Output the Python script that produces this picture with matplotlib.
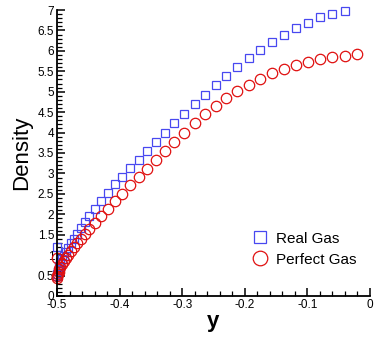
import matplotlib
matplotlib.use('Agg')
from matplotlib import pyplot as plt
from matplotlib.ticker import MultipleLocator
import numpy as np

plt.rcParams['font.family'] = ['Liberation Sans', 'DejaVu Sans']

# wall-normal position (clustered grid near the wall at y = -0.5)
y_pos = [-0.5, -0.4998, -0.4994, -0.4986, -0.4976, -0.4963, -0.4946, -0.4923,
         -0.4896, -0.4864, -0.4827, -0.4784, -0.4736, -0.4681, -0.4620, -0.4553,
         -0.4481, -0.4399, -0.4297, -0.4185, -0.4073, -0.3957, -0.3834, -0.3695,
         -0.3560, -0.3419, -0.3270, -0.3124, -0.2966, -0.2803, -0.2631, -0.2465,
         -0.2296, -0.2120, -0.1938, -0.1752, -0.1565, -0.1379, -0.1187, -0.0990,
         -0.0799, -0.0607, -0.0407, -0.0212]

rho_real = [1.20, 0.49, 0.54, 0.60, 0.67, 0.74, 0.82, 0.90,
            0.99, 1.08, 1.18, 1.29, 1.40, 1.52, 1.66, 1.80,
            1.96, 2.14, 2.33, 2.53, 2.73, 2.92, 3.13, 3.34,
            3.56, 3.78, 4.00, 4.23, 4.46, 4.69, 4.93, 5.16,
            5.38, 5.61, 5.82, 6.03, 6.22, 6.40, 6.56, 6.69,
            6.82, 6.90, 6.98]

rho_perfect = [0.92, 0.44, 0.48, 0.53, 0.59, 0.65, 0.72, 0.79,
               0.86, 0.93, 1.01, 1.10, 1.19, 1.29, 1.40, 1.52,
               1.65, 1.79, 1.96, 2.13, 2.32, 2.50, 2.71, 2.905,
               3.12, 3.34, 3.56, 3.78, 4.00, 4.23, 4.45, 4.64,
               4.84, 5.02, 5.17, 5.32, 5.45, 5.56, 5.65, 5.73,
               5.79, 5.84, 5.87, 5.92]

x_ticks = [-0.5, -0.4, -0.3, -0.2, -0.1, 0]
x_labels = ['-0.5', '-0.4', '-0.3', '-0.2', '-0.1', '0']
y_ticks = [0, 0.5, 1, 1.5, 2, 2.5, 3, 3.5, 4, 4.5, 5, 5.5, 6, 6.5, 7]
y_labels = ['0', '0.5', '1', '1.5', '2', '2.5', '3', '3.5', '4', '4.5',
            '5', '5.5', '6', '6.5', '7']

fig = plt.figure(figsize=(3.75, 3.37), dpi=100)
ax = fig.add_axes([0.152, 0.1217, 0.8347, 0.8486])

ax.plot(y_pos[:len(rho_real)], rho_real, linestyle='none', marker='s',
        markersize=6.2, markerfacecolor='none', markeredgecolor='#4848f0',
        markeredgewidth=0.9, label='Real Gas', clip_on=False)
ax.plot(y_pos, rho_perfect, linestyle='none', marker='o',
        markersize=7.5, markerfacecolor='none', markeredgecolor='#e01010',
        markeredgewidth=0.9, label='Perfect Gas', clip_on=False)

ax.set_xlim(-0.5, 0)
ax.set_ylim(0, 7)
ax.set_xticks(x_ticks)
ax.set_xticklabels(x_labels)
ax.set_yticks(y_ticks)
ax.set_yticklabels(y_labels)
ax.xaxis.set_minor_locator(MultipleLocator(0.02))
ax.yaxis.set_minor_locator(MultipleLocator(0.1))

for s in ['top', 'right']:
    ax.spines[s].set_visible(False)
for s in ['left', 'bottom']:
    ax.spines[s].set_linewidth(1.3)

ax.tick_params(which='major', direction='in', length=6, width=1.1,
               labelsize=8.5, pad=2)
ax.tick_params(which='minor', direction='in', length=3.5, width=0.9)

ax.set_xlabel('y', fontsize=16, fontweight='bold', labelpad=0)
ax.set_ylabel('Density', fontsize=16, labelpad=4)

ax.legend(loc='lower right', bbox_to_anchor=(1.0, 0.055), frameon=False,
          fontsize=11, markerscale=1.4, handletextpad=0.4, labelspacing=0.45,
          handlelength=1.2)

fig.savefig('out.png', dpi=100)
